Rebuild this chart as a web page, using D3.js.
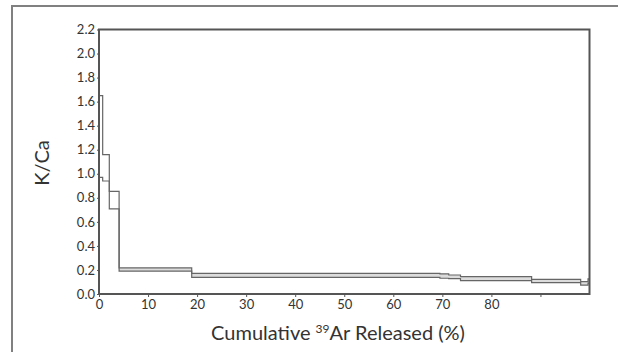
<!DOCTYPE html>
<html>
<head>
<meta charset="utf-8">
<script src="https://cdn.jsdelivr.net/npm/d3@7"></script>
<style>
  body { margin: 0; background: #fff; }
  text { font-family: Lato, "Open Sans", sans-serif; fill: #333; }
</style>
</head>
<body>
<div id="chart"></div>
<script>
// step boundaries (cumulative 39Ar %), and K/Ca band for each step
var stepX0 = [0, 0.75, 2.1, 4.1, 18.9, 69.5, 71.3, 73.7, 88.2, 98.2, 99.7];
var stepX1 = [0.75, 2.1, 4.1, 18.9, 69.5, 71.3, 73.7, 88.2, 98.2, 99.7, 100];
var kcaHigh = [1.65, 1.16, 0.853, 0.217, 0.172, 0.167, 0.158, 0.144, 0.122, 0.103, 0.125];
var kcaLow = [0.97, 0.94, 0.708, 0.19, 0.139, 0.131, 0.128, 0.111, 0.094, 0.074, 0.09];
var xTicks = [0, 10, 20, 30, 40, 50, 60, 70, 80, 90];
var xTickLabels = ["0", "10", "20", "30", "40", "50", "60", "70", "80", ""];
var yTicks = [0, 0.2, 0.4, 0.6, 0.8, 1.0, 1.2, 1.4, 1.6, 1.8, 2.0, 2.2];

var width = 618, height = 352;
var mLeft = 99, mRight = 589.5, mTop = 29.5, mBottom = 294;

var svg = d3.select("#chart").append("svg")
  .attr("width", width)
  .attr("height", height);

// outer frame (top and left edges only visible)
svg.append("path")
  .attr("d", "M12," + height + "V6H" + width)
  .attr("fill", "none")
  .attr("stroke", "#808080")
  .attr("stroke-width", 2);

var x = d3.scaleLinear().domain([0, 100]).range([mLeft, mRight]);
var y = d3.scaleLinear().domain([0, 2.2]).range([mBottom, mTop]);

var steps = stepX0.map((d, i) => ({x0: d, x1: stepX1[i], hi: kcaHigh[i], lo: kcaLow[i]}));
// last point repeated at the end so the step line runs to 100%
var pts = steps.map(d => ({x: d.x0, hi: d.hi, lo: d.lo}));
pts.push({x: stepX1[stepX1.length - 1], hi: kcaHigh[kcaHigh.length - 1], lo: kcaLow[kcaLow.length - 1]});

// light shading inside the thin error bands
svg.append("g")
  .selectAll("rect")
  .data(steps.filter(d => d.hi - d.lo < 0.06))
  .enter()
  .append("rect")
  .attr("x", d => x(d.x0))
  .attr("width", d => x(d.x1) - x(d.x0))
  .attr("y", d => y(d.hi))
  .attr("height", d => y(d.lo) - y(d.hi))
  .attr("fill", "#dcdcdc");

var hiLine = d3.line().curve(d3.curveStepAfter).x(d => x(d.x)).y(d => y(d.hi));
var loLine = d3.line().curve(d3.curveStepAfter).x(d => x(d.x)).y(d => y(d.lo));

svg.append("path")
  .attr("d", hiLine(pts))
  .attr("fill", "none")
  .attr("stroke", "#666")
  .attr("stroke-width", 1.2);
svg.append("path")
  .attr("d", loLine(pts))
  .attr("fill", "none")
  .attr("stroke", "#666")
  .attr("stroke-width", 1.2);

// plot box
svg.append("rect")
  .attr("x", mLeft)
  .attr("y", mTop)
  .attr("width", mRight - mLeft)
  .attr("height", mBottom - mTop)
  .attr("fill", "none")
  .attr("stroke", "#555")
  .attr("stroke-width", 2);

var xAxis = svg.append("g")
  .attr("transform", "translate(0," + mBottom + ")")
  .call(d3.axisBottom(x).tickValues(xTicks)
    .tickFormat((d, i) => xTickLabels[i]).tickSize(3).tickPadding(3));
xAxis.select(".domain").remove();
xAxis.selectAll("line").attr("stroke", "#555");
xAxis.selectAll("text").attr("font-size", 13).style("fill", "#333")
  .style("font-family", "Lato, 'Open Sans', sans-serif");

var yAxis = svg.append("g")
  .attr("transform", "translate(" + mLeft + ",0)")
  .call(d3.axisLeft(y).tickValues(yTicks)
    .tickFormat(d3.format(".1f")).tickSize(2).tickPadding(2));
yAxis.select(".domain").remove();
yAxis.selectAll("line").attr("stroke", "#555");
yAxis.selectAll("text").attr("font-size", 13).style("fill", "#333")
  .style("font-family", "Lato, 'Open Sans', sans-serif");

var xTitle = svg.append("text")
  .attr("x", 338)
  .attr("y", 340)
  .attr("text-anchor", "middle")
  .attr("font-size", 20);
xTitle.append("tspan").text("Cumulative ");
xTitle.append("tspan").attr("font-size", 12).attr("dy", -7).text("39");
xTitle.append("tspan").attr("dy", 7).text("Ar Released (%)");

svg.append("text")
  .attr("transform", "translate(49,163) rotate(-90)")
  .attr("text-anchor", "middle")
  .attr("font-size", 20)
  .text("K/Ca");
</script>
</body>
</html>
